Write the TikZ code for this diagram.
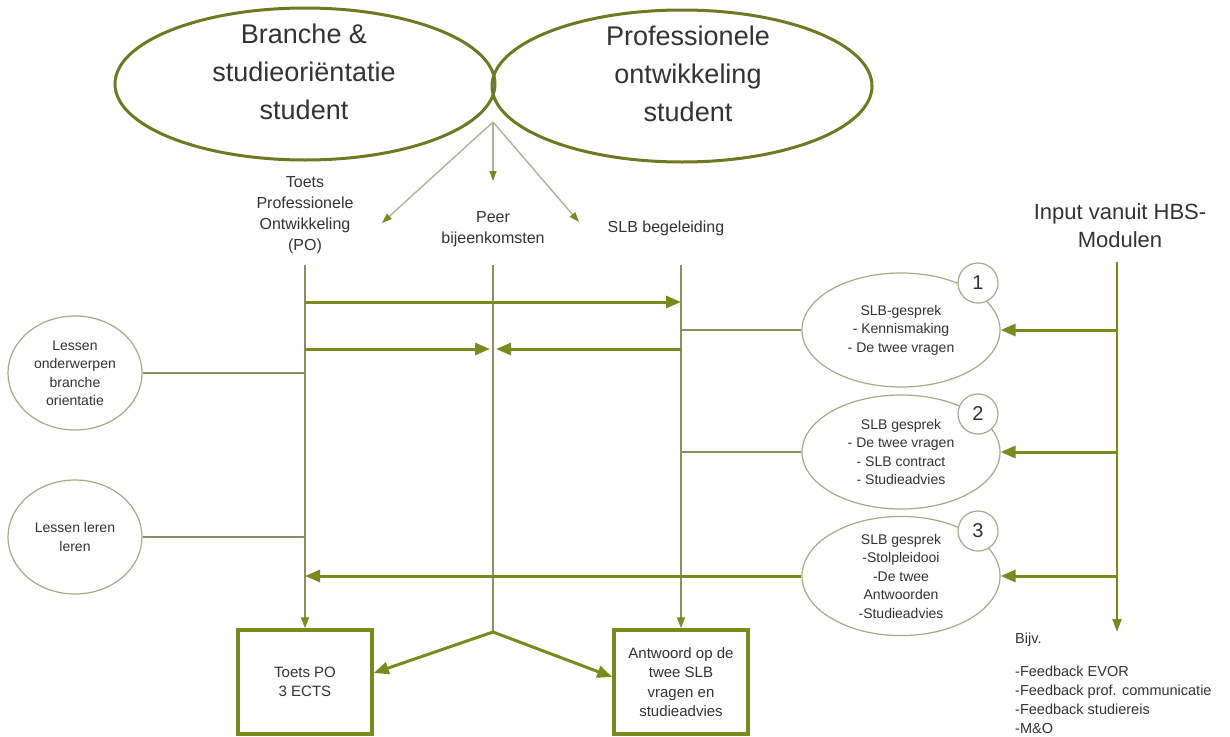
\documentclass[tikz,border=0pt]{standalone}
\usepackage{fontspec}
\setmainfont{Liberation Sans}
\usetikzlibrary{arrows.meta,shapes.geometric,calc}
\definecolor{oliv}{HTML}{7B8A1E}
\definecolor{ellc}{HTML}{6F7822}
\definecolor{thinc}{HTML}{8E8E60}
\definecolor{slbc}{HTML}{A9A98A}
\definecolor{topc}{HTML}{B2B298}
\definecolor{txt}{HTML}{333333}
\begin{document}
\begin{tikzpicture}[x=1pt,y=-1pt,
  every node/.style={text=txt, inner sep=0pt},
  bigell/.style={draw=ellc, line width=3pt, ellipse, minimum width=380pt, minimum height=152pt},
  bigtxt/.style={align=center, font=\fontsize{27}{38}\selectfont},
  lbl/.style={align=center, font=\fontsize{16}{21}\selectfont},
  small/.style={align=center, font=\fontsize{14}{18.5}\selectfont},
  slb/.style={draw=slbc, line width=1.2pt, ellipse, minimum width=198pt, minimum height=114pt, small},
  side/.style={draw=slbc, line width=1.2pt, ellipse, minimum width=134pt, minimum height=114pt, small},
  num/.style={draw=slbc, line width=1.2pt, circle, fill=white, minimum size=40pt, font=\fontsize{20}{20}\selectfont},
  box/.style={draw=oliv, line width=3.5pt, minimum width=134pt, minimum height=104pt, align=center, font=\fontsize{15}{19.5}\selectfont},
  bigarrow/.style={draw=oliv, line width=3pt, -{Triangle[length=15pt,width=12pt]}},
  thinline/.style={draw=thinc, line width=1.8pt},
  thinarrow/.style={draw=thinc, line width=1.8pt, -{Triangle[length=11pt,width=8pt,color=oliv]}},
  toparrow/.style={draw=topc, line width=1.4pt, -{Triangle[length=10pt,width=7pt,color=oliv]}},
]
\fill[white] (0,0) rectangle (1230,736);
\useasboundingbox (0,0) rectangle (1230,736);

% top ellipses
\node[bigell] (e1) at (305,84) {};
\node[bigell] (e2) at (682,86) {};
\node[bigtxt] (e1t) at (304,72) {Branche \&\\studieoriëntatie\\student};
\node[bigtxt] (e2t) at (688,74) {Professionele\\ontwikkeling\\student};

% column labels
\node[lbl] (tpo) at (305,215) {Toets\\Professionele\\Ontwikkeling\\(PO)};
\node[lbl] (peer) at (493,229) {Peer\\bijeenkomsten};
\node[lbl] (slbb) at (666,228) {SLB begeleiding};

\coordinate (src) at (493,122);
\coordinate (tpoin) at (382,223);
\coordinate (peerin) at (493,181);
\coordinate (slbin) at (579,222);
\draw[toparrow] (src) -- (tpoin);
\draw[toparrow] (src) -- (peerin);
\draw[toparrow] (src) -- (slbin);

% boxes
\node[box] (b1) at (305,682) {Toets PO\\3 ECTS};
\node[box] (b2) at (681,682) {Antwoord op de\\twee SLB\\vragen en\\studieadvies};

% vertical lines
\coordinate (v1) at (305,265);
\coordinate (v2) at (493,265);
\coordinate (v3) at (681,265);
\coordinate (jn) at (493,632);
\draw[thinarrow] (v1) -- (b1.north);
\draw[thinarrow] (v3) -- (b2.north);
\draw[thinline] (v2) -- (jn);
\draw[bigarrow] (jn) -- ($(b1.east)+(0,-9)$);
\draw[bigarrow] (jn) -- ($(b2.west)+(0,-5)$);

% horizontal arrows between columns
\coordinate (h1a) at (305,302);
\coordinate (h1b) at (681,302);
\coordinate (h2a) at (305,349);
\coordinate (h2b) at (490,349);
\coordinate (h3a) at (681,349);
\coordinate (h3b) at (496,349);
\draw[bigarrow] (h1a) -- (h1b);
\draw[bigarrow] (h2a) -- (h2b);
\draw[bigarrow] (h3a) -- (h3b);

% left circles
\node[side] (c1) at (75,373) {Lessen\\onderwerpen\\branche\\orientatie};
\node[side] (c2) at (75,537) {Lessen leren\\leren};
\draw[thinline] (c1.east) -- (c1.east -| v1);
\draw[thinline] (c2.east) -- (c2.east -| v1);

% SLB talks
\node[slb] (s1) at (901,330) {SLB-gesprek\\- Kennismaking\\- De twee vragen};
\node[slb] (s2) at (901,452) {SLB gesprek\\- De twee vragen\\- SLB contract\\- Studieadvies};
\node[slb] (s3) at (901,576) {SLB gesprek\\-Stolpleidooi\\-De twee\\Antwoorden\\-Studieadvies};
\node[num] (n1) at (978,283) {1};
\node[num] (n2) at (978,414) {2};
\node[num] (n3) at (978,531) {3};
\draw[thinline] (s1.west) -- (s1.west -| v3);
\draw[thinline] (s2.west) -- (s2.west -| v3);
\draw[bigarrow] (s3.west) -- (s3.west -| v1);

% input
\node[align=center, font=\fontsize{22}{28}\selectfont] (inp) at (1120,226) {Input vanuit HBS-\\Modulen};
\coordinate (vt) at (1117,262);
\coordinate (vb) at (1117,632);
\draw[draw=oliv, line width=2.2pt, -{Triangle[length=13pt,width=9pt]}] (vt) -- (vb);
\draw[bigarrow] (s1.east -| vt) -- (s1.east);
\draw[bigarrow] (s2.east -| vt) -- (s2.east);
\draw[bigarrow] (s3.east -| vt) -- (s3.east);

\node[anchor=north west, align=left, font=\fontsize{14.5}{19}\selectfont] (bijv) at (1015,633) {Bijv.\\[14pt]-Feedback EVOR\\-Feedback prof. communicatie\\-Feedback studiereis\\-M\&O};
\end{tikzpicture}
\end{document}
